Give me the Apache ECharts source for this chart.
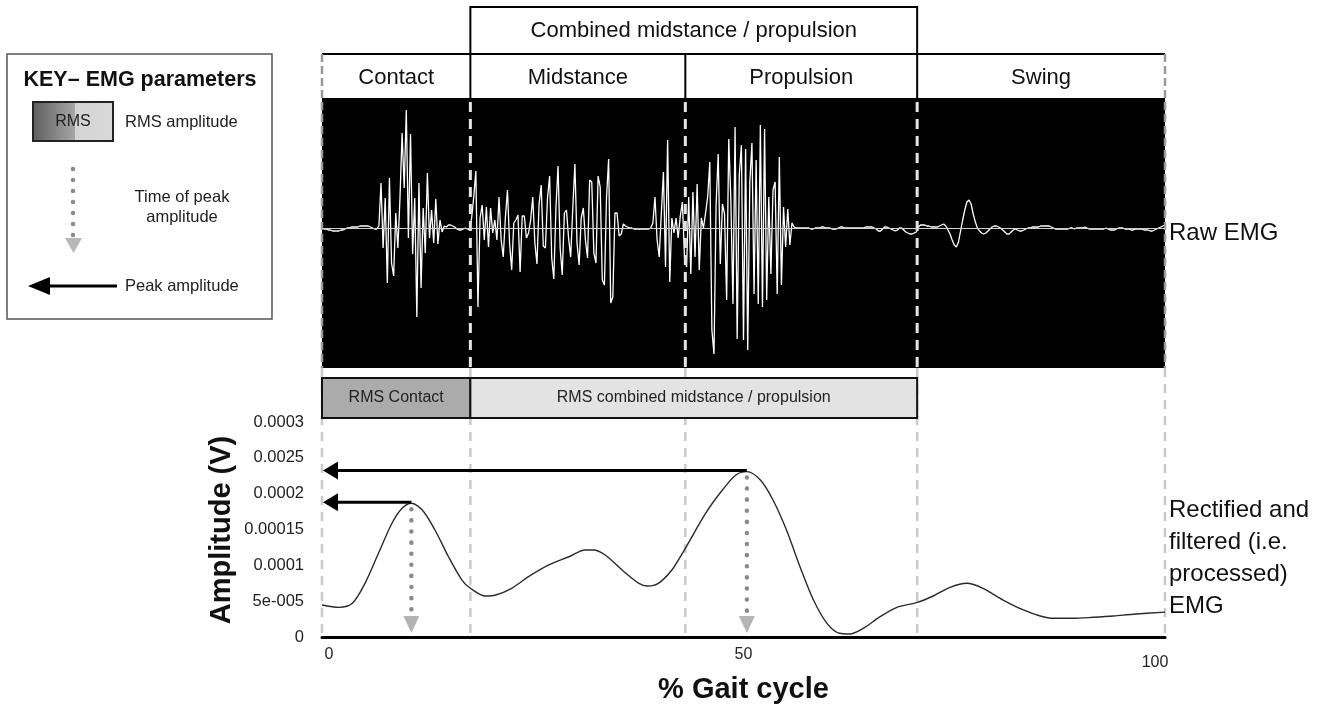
<!DOCTYPE html>
<html>
<head>
<meta charset="utf-8">
<script src="https://cdn.jsdelivr.net/npm/echarts/dist/echarts.min.js"></script>
<style>
html,body{margin:0;padding:0;background:#fff;}
#chart{width:1324px;height:706px;}
</style>
</head>
<body>
<div id="chart"></div>
<script>
// ---------- data ----------
const phaseNames = ['Contact', 'Midstance', 'Propulsion', 'Swing'];
const phaseBounds = [0, 17.6, 43.1, 70.6, 100];
const combinedLabel = 'Combined midstance / propulsion';
const combinedRange = [17.6, 70.6];
const rmsLabels = ['RMS Contact', 'RMS combined midstance / propulsion'];
const rmsStart = [0, 17.6];
const rmsEnd = [17.6, 70.6];

// raw EMG, one sample every 0.25 % of gait cycle (arbitrary units)
const rawStep = 0.25;
const rawEMG = [
  0,-1,-1,-2,  -2,-3,-3,-3,  -3,-2,-2,-1,  0,0,1,1,  1,1,2,2,
  2,2,2,1,  0,-1,-1,2,  45,-20,30,-55,  50,-35,-48,15,  -20,30,95,40,
  118,-10,94,-26,  30,-89,45,-60,  20,-25,55,-10,  18,-15,29,-16,  8,-4,2,1,
  3,3,2,1,  -1,-2,-2,-1,  0,-1,-2,10,  31,57,-79,10,  23,-12,21,-19,
  20,-5,8,-12,  31,-12,-29,10,  38,-15,-42,5,  8,13,-44,12,  12,-10,-5,8,
  31,-15,-36,24,  43,-18,-20,30,  52,-30,-51,20,  62,-20,-47,15,  18,-10,-29,20,
  64,-15,-37,10,  20,-12,-30,48,  46,-25,-35,52,  41,-52,-57,30,  69,-75,-69,15,
  15,-8,-6,4,  2,1,0,0,  -1,-1,-1,-1,  -1,-1,-1,-1,  0,5,31,-12,
  -29,14,56,-39,  88,-54,10,-5,  10,-10,12,26,  -29,-39,31,-46,  36,-29,44,-42,
  10,0,15,31,  66,-102,-126,24,  74,-36,24,14,  -72,89,28,-76,  101,-111,53,83,
  -112,79,-122,46,  85,-66,68,-76,  103,-79,99,-72,  31,-46,38,46,  -66,71,-57,21,
  -19,19,-17,5,  1,0,0,0,  0,0,0,0,  -1,-1,0,0,  0,1,1,0,
  0,0,-1,-1,  -1,0,1,1,  0,0,0,0,  0,0,0,0,  0,0,1,1,
  1,1,0,-1,  -3,-3,-1,1,  1,0,-1,-2,  -3,-2,0,0,  -2,-4,-5,-6,
  -6,-5,-4,1,  3,3,3,2,  2,1,1,1,  1,2,3,4,  2,-2,-6,-12,
  -17,-19,-14,-3,  8,18,26,28,  24,14,6,0,  -3,-5,-6,-5,  -3,-1,1,2,
  2,1,0,-2,  -4,-6,-6,-4,  -2,-1,-2,-3,  -3,-2,-1,0,  0,1,1,1,
  1,2,2,2,  2,2,1,0,  -1,-1,-1,-1,  -1,-1,-1,0,  0,-1,0,0,
  0,0,1,0,  -1,-1,-1,-1,  -1,-1,-1,-1,  0,-1,-2,-2,  -2,-1,0,0,
  0,-1,-1,-1,  -2,-2,-1,-1,  -1,-1,-2,-2,  -2,-3,-3,-2,  -1,0,1,2,
  3
];

// rectified and filtered EMG (V) vs % gait cycle
const procX = [0,2,3.6,5.1,6.7,8.3,9.5,10.6,11.9,13.4,
  15,16.6,17.6,19.4,20.6,22.5,24.5,26.9,29.3,31.2,
  32.2,33.6,35.6,37.6,38.6,39.9,41.5,43.1,45.5,47.5,
  49.1,50.4,52,53.5,55.1,56.7,58.3,59.9,61.4,62.6,
  64.2,66.2,68.2,70.5,72.5,74.5,76.5,78.4,80.8,83.2,
  85.2,86.8,89.1,91.5,93.9,96.2,100];
const procV = [0.0000447,0.0000414,0.000047,0.0000749,0.0001168,0.0001587,0.0001796,0.0001866,0.0001772,0.0001493,
  0.000112,0.0000795,0.000068,0.0000572,0.0000586,0.000068,0.0000842,0.0001005,0.000112,0.0001214,
  0.0001214,0.0001144,0.0000935,0.0000749,0.0000712,0.0000749,0.0000935,0.0001238,0.0001726,0.0002051,
  0.000226,0.0002307,0.000219,0.0001912,0.0001493,0.0000981,0.0000516,0.0000191,0.0000052,0.0000042,
  0.0000121,0.0000283,0.0000414,0.0000479,0.0000572,0.0000693,0.0000749,0.000068,0.0000516,0.0000377,
  0.0000293,0.0000261,0.0000261,0.0000275,0.0000293,0.0000317,0.0000347];

const peakX = [10.6, 50.4];
const peakV = [0.000188, 0.0002325];

const yTickLabels = ['0', '5e-005', '0.0001', '0.00015', '0.0002', '0.0025', '0.0003'];
const xTickLabels = ['0', '50', '100'];

// ---------- chart ----------
const FONT = '"Liberation Sans", Arial, Helvetica, sans-serif';
const chart = echarts.init(document.getElementById('chart'), null, {renderer: 'canvas'});

function headerItem(params, api) {
  const i = params.dataIndex;
  const a = api.coord([api.value(0), 0]);
  const b = api.coord([api.value(1), 0]);
  const top = params.coordSys.y;
  const h = 46;
  return {type: 'group', children: [
    {type: 'rect', shape: {x: a[0], y: top - h, width: b[0] - a[0], height: h}, style: {fill: '#fff'}},
    {type: 'line', shape: {x1: a[0], y1: top - h, x2: b[0], y2: top - h}, style: {stroke: '#000', lineWidth: 2}},
    {type: 'line', shape: {x1: a[0], y1: top - 1, x2: b[0], y2: top - 1}, style: {stroke: '#000', lineWidth: 2}},
    {type: 'text', style: {text: phaseNames[i], x: (a[0] + b[0]) / 2, y: top - h / 2 + 1, align: 'center', verticalAlign: 'middle', fontSize: 22, fontFamily: FONT, fill: '#111'}}
  ]};
}

function combinedItem(params, api) {
  const a = api.coord([api.value(0), 0]);
  const b = api.coord([api.value(1), 0]);
  const top = params.coordSys.y;
  return {type: 'group', children: [
    {type: 'rect', shape: {x: a[0], y: top - 93, width: b[0] - a[0], height: 47}, style: {fill: '#fff', stroke: '#000', lineWidth: 2}},
    {type: 'text', style: {text: combinedLabel, x: (a[0] + b[0]) / 2, y: top - 69, align: 'center', verticalAlign: 'middle', fontSize: 22, fontFamily: FONT, fill: '#111'}}
  ]};
}

function boundItem(params, api) {
  const i = params.dataIndex;
  const p = api.coord([api.value(0), 0]);
  const top = params.coordSys.y;
  const bot = top + params.coordSys.height;
  const edge = (i === 0 || i === phaseBounds.length - 1);
  if (edge) {
    return {type: 'line', shape: {x1: p[0], y1: top - 46, x2: p[0], y2: bot}, style: {stroke: '#9a9a9a', lineWidth: 2.5, lineDash: [8, 4]}};
  }
  return {type: 'group', children: [
    {type: 'line', shape: {x1: p[0], y1: top - 46, x2: p[0], y2: top}, style: {stroke: '#000', lineWidth: 2}},
    {type: 'line', shape: {x1: p[0], y1: top + 2, x2: p[0], y2: bot}, style: {stroke: '#e4e4e4', lineWidth: 3, lineDash: [10, 7]}}
  ]};
}

function lowerBoundItem(params, api) {
  const p = api.coord([api.value(0), 0]);
  const top = params.coordSys.y;
  return {type: 'line', shape: {x1: p[0], y1: top - 2, x2: p[0], y2: p[1]}, style: {stroke: '#cacaca', lineWidth: 2.5, lineDash: [9, 7]}};
}

function rmsItem(params, api) {
  const i = params.dataIndex;
  const a = api.coord([api.value(0), 0]);
  const b = api.coord([api.value(1), 0]);
  const top = params.coordSys.y + 8;
  const fills = ['#ababab', '#e3e3e3'];
  return {type: 'group', children: [
    {type: 'rect', shape: {x: a[0], y: top, width: b[0] - a[0], height: 40}, style: {fill: fills[i], stroke: '#111', lineWidth: 2}},
    {type: 'text', style: {text: rmsLabels[i], x: (a[0] + b[0]) / 2, y: top + 20, align: 'center', verticalAlign: 'middle', fontSize: 16, fontFamily: FONT, fill: '#222'}}
  ]};
}

function peakItem(params, api) {
  const x = api.value(0), v = api.value(1);
  const p = api.coord([x, v]);
  const p0 = api.coord([0, v]);
  const base = api.coord([x, 0]);
  return {type: 'group', children: [
    {type: 'line', shape: {x1: p[0], y1: p[1], x2: p0[0] + 12, y2: p0[1]}, style: {stroke: '#000', lineWidth: 3}},
    {type: 'polygon', shape: {points: [[p0[0] + 1, p0[1]], [p0[0] + 16, p0[1] - 9], [p0[0] + 16, p0[1] + 9]]}, style: {fill: '#000'}},
    {type: 'polygon', shape: {points: [[p[0] - 8, base[1] - 21], [p[0] + 8, base[1] - 21], [p[0], base[1] - 4]]}, style: {fill: '#b4b4b4'}},
    {type: 'line', shape: {x1: p[0], y1: p[1] + 7, x2: p[0], y2: base[1] - 18}, style: {stroke: '#8a8a8a', lineWidth: 4.5, lineDash: [0.1, 11], lineCap: 'round'}}
  ]};
}

const yMax = 0.0003 * 267 / 215;

const option = {
  animation: false,
  backgroundColor: '#fff',
  grid: [
    {left: 322, top: 100, width: 843, height: 268, show: true, backgroundColor: '#000', borderWidth: 0},
    {left: 322, top: 370, width: 843, height: 267}
  ],
  xAxis: [
    {type: 'value', gridIndex: 0, min: 0, max: 100, show: false},
    {type: 'value', gridIndex: 1, min: 0, max: 100, interval: 50,
      axisLine: {lineStyle: {color: '#000', width: 3}},
      axisTick: {show: false}, splitLine: {show: false},
      axisLabel: {margin: 10, fontSize: 16, fontFamily: FONT, color: '#222',
        formatter: function (v) {
          const i = Math.round(v / 50);
          const t = xTickLabels[i];
          if (i === 0) return '{l|' + t + '}';
          if (i === 2) return '{r|' + t + '}';
          return '{m|' + t + '}';
        },
        rich: {
          l: {fontSize: 16, fontFamily: FONT, color: '#222', padding: [0, 0, 0, 14]},
          m: {fontSize: 16, fontFamily: FONT, color: '#222'},
          r: {fontSize: 16, fontFamily: FONT, color: '#222', padding: [8, 20, 0, 0]}
        }
      },
      name: '% Gait cycle', nameLocation: 'middle', nameGap: 38,
      nameTextStyle: {fontSize: 29, fontWeight: 'bold', fontFamily: FONT, color: '#111'}
    }
  ],
  yAxis: [
    {type: 'value', gridIndex: 0, min: -140, max: 128, show: false},
    {type: 'value', gridIndex: 1, min: 0, max: yMax, interval: 0.00005,
      axisLine: {show: false}, axisTick: {show: false}, splitLine: {show: false},
      axisLabel: {margin: 18, fontSize: 16.5, fontFamily: FONT, color: '#222',
        formatter: function (v) {
          const i = Math.round(v / 0.00005);
          return yTickLabels[i] !== undefined ? yTickLabels[i] : '';
        }
      }
    }
  ],
  series: [
    {type: 'custom', name: 'phase edges', xAxisIndex: 0, yAxisIndex: 0, z: 4, silent: true,
      renderItem: boundItem, data: phaseBounds.map(b => [b])},
    {type: 'custom', name: 'combined', xAxisIndex: 0, yAxisIndex: 0, z: 5, silent: true,
      renderItem: combinedItem, data: [[combinedRange[0], combinedRange[1]]]},
    {type: 'custom', name: 'phases', xAxisIndex: 0, yAxisIndex: 0, z: 3, silent: true,
      renderItem: headerItem, data: phaseNames.map((n, i) => [phaseBounds[i], phaseBounds[i + 1]])},
    {type: 'line', name: 'Raw EMG', xAxisIndex: 0, yAxisIndex: 0, z: 2,
      data: rawEMG.map((v, i) => [i * rawStep, v]),
      showSymbol: false, lineStyle: {color: '#fff', width: 1.3}, silent: true,
      markLine: {silent: true, symbol: 'none', label: {show: false},
        lineStyle: {color: '#d0d0d0', width: 1, type: 'solid'}, data: [{yAxis: 0}]}
    },
    {type: 'custom', name: 'lower edges', xAxisIndex: 1, yAxisIndex: 1, z: 1, silent: true,
      renderItem: lowerBoundItem, data: phaseBounds.map(b => [b, 0])},
    {type: 'custom', name: 'rms', xAxisIndex: 1, yAxisIndex: 1, z: 4, silent: true,
      renderItem: rmsItem, data: rmsStart.map((s, i) => [s, rmsEnd[i]])},
    {type: 'line', name: 'Processed EMG', xAxisIndex: 1, yAxisIndex: 1, z: 3,
      data: procX.map((x, i) => [x, procV[i]]), smooth: 0.3,
      showSymbol: false, lineStyle: {color: '#2a2a2a', width: 1.4}, silent: true},
    {type: 'custom', name: 'peaks', xAxisIndex: 1, yAxisIndex: 1, z: 6, silent: true,
      renderItem: peakItem, data: peakX.map((x, i) => [x, peakV[i]])}
  ],
  graphic: [
    {type: 'rect', shape: {x: 7, y: 54, width: 265, height: 265}, style: {fill: '#fff', stroke: '#555', lineWidth: 1.5}},
    {type: 'text', style: {text: 'KEY\u2013 EMG parameters', x: 140, y: 80, align: 'center', verticalAlign: 'middle', fontSize: 21.5, fontWeight: 'bold', fontFamily: FONT, fill: '#111'}},
    {type: 'rect', shape: {x: 33, y: 102, width: 80, height: 39},
      style: {fill: new echarts.graphic.LinearGradient(0, 0, 1, 0, [
        {offset: 0, color: '#5c5c5c'}, {offset: 0.52, color: '#a6a6a6'},
        {offset: 0.53, color: '#d4d4d4'}, {offset: 1, color: '#d9d9d9'}]), stroke: '#222', lineWidth: 2}},
    {type: 'text', style: {text: 'RMS', x: 73, y: 122, align: 'center', verticalAlign: 'middle', fontSize: 16, fontFamily: FONT, fill: '#222'}},
    {type: 'text', style: {text: 'RMS amplitude', x: 125, y: 122, align: 'left', verticalAlign: 'middle', fontSize: 16.5, fontFamily: FONT, fill: '#222'}},
    {type: 'line', shape: {x1: 73, y1: 169, x2: 73, y2: 236}, style: {stroke: '#8a8a8a', lineWidth: 4.5, lineDash: [0.1, 10.9], lineCap: 'round'}},
    {type: 'polygon', shape: {points: [[65, 238], [82, 238], [73.5, 253]]}, style: {fill: '#b8b8b8'}},
    {type: 'text', style: {text: 'Time of peak', x: 182, y: 197, align: 'center', verticalAlign: 'middle', fontSize: 16.5, fontFamily: FONT, fill: '#222'}},
    {type: 'text', style: {text: 'amplitude', x: 182, y: 217, align: 'center', verticalAlign: 'middle', fontSize: 16.5, fontFamily: FONT, fill: '#222'}},
    {type: 'line', shape: {x1: 46, y1: 286, x2: 117, y2: 286}, style: {stroke: '#000', lineWidth: 3}},
    {type: 'polygon', shape: {points: [[28, 286], [50, 277], [50, 295]]}, style: {fill: '#000'}},
    {type: 'text', style: {text: 'Peak amplitude', x: 125, y: 286, align: 'left', verticalAlign: 'middle', fontSize: 16.5, fontFamily: FONT, fill: '#222'}},
    {type: 'text', style: {text: 'Raw EMG', x: 1169, y: 233, align: 'left', verticalAlign: 'middle', fontSize: 24, fontFamily: FONT, fill: '#111'}},
    {type: 'text', style: {text: 'Rectified and\nfiltered (i.e.\nprocessed)\nEMG', x: 1169, y: 494, align: 'left', verticalAlign: 'top', fontSize: 24, lineHeight: 32, fontFamily: FONT, fill: '#111'}},
    {type: 'text', x: 222, y: 530, rotation: Math.PI / 2,
      style: {text: 'Amplitude (V)', x: 0, y: 0, align: 'center', verticalAlign: 'middle', fontSize: 29, fontWeight: 'bold', fontFamily: FONT, fill: '#111'}}
  ]
};
chart.setOption(option);
</script>
</body>
</html>
